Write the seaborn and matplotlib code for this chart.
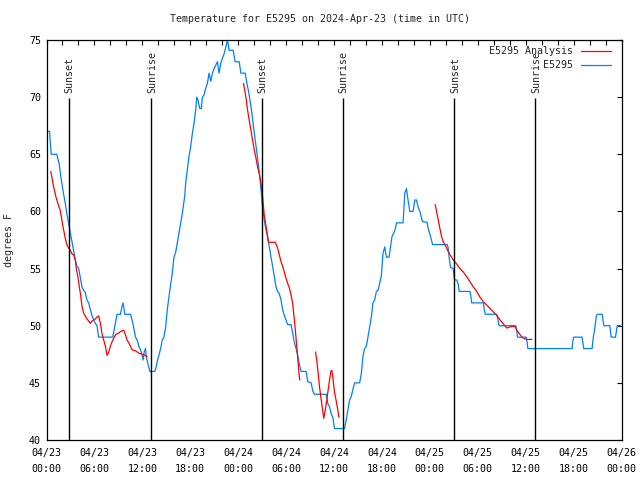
import numpy as np
import pandas as pd
import matplotlib
matplotlib.use("Agg")
import matplotlib.pyplot as plt
import seaborn as sns
from matplotlib.lines import Line2D

# ---------------- data (hours since 2024-04-23 00:00 UTC, degrees F) ----------------
obs_hours = [0.04, 0.38, 0.59, 1.29, 1.60, 1.80, 2.05, 2.35, 2.55, 2.76, 2.98, 3.18, 3.39, 3.61,
             3.81, 4.02, 4.23, 4.44, 4.65, 4.86, 5.06, 5.28, 5.49, 5.69, 5.91, 6.12, 6.32, 6.53,
             8.29, 8.54, 8.83, 9.26, 9.46, 9.59, 9.80, 10.52, 10.72, 10.93, 11.15, 11.35, 11.56,
             11.77, 11.98, 12.10, 12.23, 12.40, 12.48, 12.73, 12.94, 13.57, 13.73, 13.91, 14.07,
             14.29, 14.49, 14.70, 14.92, 15.12, 15.33, 15.54, 15.75, 15.96, 16.17, 16.37, 16.59,
             16.80, 17.00, 17.30, 17.43, 17.63, 17.84, 18.06, 18.26, 18.47, 18.69, 18.81, 18.97,
             19.19, 19.39, 19.52, 19.73, 19.94, 20.14, 20.36, 20.57, 20.77, 20.99, 21.20, 21.40,
             21.61, 21.83, 22.03, 22.24, 22.46, 22.66, 22.87, 23.37, 23.62, 24.13, 24.34, 24.88,
             25.04, 25.30, 25.51, 25.72, 25.92, 26.14, 26.35, 26.55, 26.73, 26.89, 27.05, 27.27,
             27.48, 27.68, 27.90, 28.11, 28.31, 28.52, 28.74, 28.94, 29.15, 29.37, 29.57, 29.78,
             29.99, 30.20, 30.62, 30.82, 31.04, 31.25, 31.45, 31.67, 31.88, 32.51, 32.71, 33.14,
             33.34, 33.55, 35.02, 35.22, 35.44, 35.65, 35.85, 36.06, 37.32, 37.53, 37.74, 37.95,
             38.16, 38.36, 38.58, 39.21, 39.42, 39.62, 39.83, 40.05, 40.25, 40.46, 40.68, 40.88,
             41.09, 41.31, 41.51, 41.72, 41.93, 42.13, 42.35, 42.56, 42.89, 43.06, 43.26, 43.48,
             43.69, 43.82, 44.65, 44.86, 45.07, 45.27, 45.49, 45.90, 46.12, 46.33, 46.53, 46.75,
             47.08, 47.66, 47.79, 48.09, 48.34, 50.18, 50.30, 50.43, 50.60, 50.93, 51.06, 51.14,
             51.39, 51.56, 51.68, 53.03, 53.15, 53.24, 54.70, 54.82, 54.95, 56.38, 56.51, 56.67,
             58.77, 58.90, 58.97, 60.07, 60.19, 60.28, 65.81, 65.93, 66.01, 67.06, 67.27, 68.32,
             68.45, 68.61, 68.86, 69.03, 69.58, 69.78, 70.53, 70.71, 71.25, 71.46, 71.88]
obs_temp = [67.0, 67.0, 65.0, 65.0, 64.1, 63.0, 61.9, 60.7, 59.8, 59.0, 58.1, 57.4, 56.6, 55.75,
            55.2, 55.05, 54.2, 53.4, 53.1, 52.9, 52.25, 52.0, 51.4, 50.9, 50.5, 50.2, 50.0, 49.0,
            49.0, 49.9, 51.0, 51.0, 51.7, 52.0, 51.0, 51.0, 50.5, 49.8, 49.0, 48.75, 48.2,
            47.9, 47.4, 47.0, 47.7, 48.0, 47.3, 46.6, 46.0, 46.0, 46.4, 47.0, 47.4,
            48.0, 48.75, 49.0, 49.9, 51.4, 52.5, 53.6, 54.6, 56.0, 56.4, 57.2, 58.1,
            59.0, 59.8, 61.3, 62.5, 63.6, 64.8, 65.7, 66.8, 67.7, 68.9, 70.0, 69.75,
            69.0, 69.0, 70.0, 70.2, 70.8, 71.2, 72.1, 71.4, 72.1, 72.5, 72.8, 73.1,
            72.1, 73.0, 73.4, 73.8, 74.4, 75.0, 74.1, 74.1, 73.1, 73.1, 72.1, 72.1,
            71.4, 70.5, 69.6, 68.6, 67.4, 66.25, 65.1, 63.9, 62.9, 61.6, 60.4, 59.25,
            58.4, 57.8, 56.9, 56.0, 55.2, 54.3, 53.4, 53.0, 52.8, 52.25, 51.4, 50.9,
            50.5, 50.1, 50.1, 49.4, 48.5, 48.0, 47.4, 46.6, 46.0, 46.0, 45.1, 45.0,
            44.3, 44.0, 44.0, 43.2, 42.9, 42.3, 42.0, 41.0, 41.0, 41.75, 42.6, 43.5,
            43.8, 44.4, 45.0, 45.0, 45.8, 47.3, 48.0, 48.2, 49.0, 49.9, 50.8, 52.0,
            52.25, 53.0, 53.1, 53.7, 54.4, 56.3, 56.9, 56.0, 56.0, 56.8, 57.8, 58.1,
            58.5, 59.0, 59.0, 61.6, 62.0, 61.0, 60.0, 60.0, 61.0, 61.0, 60.4, 60.0,
            59.1, 59.05, 58.5, 57.8, 57.1, 57.1, 56.8, 55.9, 55.1, 55.0, 54.15, 54.0,
            54.0, 53.6, 53.0, 53.0, 52.5, 52.0, 52.0, 51.4, 51.0, 51.0, 50.6, 50.0,
            50.0, 49.5, 49.0, 49.0, 48.5, 48.0, 48.0, 48.75, 49.0, 49.0, 48.0, 48.0,
            48.9, 49.6, 50.9, 51.0, 51.0, 50.0, 50.0, 49.0, 49.0, 50.0, 50.0]

ana1_hours = [0.54, 0.88, 1.17, 1.51, 1.72, 1.92, 2.14, 2.35, 2.55, 2.76, 2.98, 3.18, 3.39, 3.61,
              3.73, 3.93, 4.11, 4.27, 4.44, 4.65, 4.86, 5.06, 5.28, 5.49, 5.69, 5.91, 6.12, 6.32,
              6.53, 6.75, 6.95, 7.16, 7.38, 7.58, 7.79, 8.00, 8.21, 8.42, 8.63, 8.83, 9.05, 9.26,
              9.46, 9.68, 9.89, 10.09, 10.30, 10.52, 10.72, 11.15, 11.56, 11.98, 12.40, 12.60]
ana1_temp = [63.5, 62.2, 61.3, 60.5, 60.1, 59.25, 58.4, 57.65, 57.1, 56.8, 56.6, 56.3, 56.2, 55.75,
             55.0, 54.3, 53.4, 52.7, 51.7, 51.1, 50.85, 50.6, 50.4, 50.2, 50.4, 50.5, 50.6, 50.75,
             50.85, 50.2, 49.3, 48.75, 48.2, 47.4, 47.7, 48.2, 48.6, 48.9, 49.2, 49.3, 49.35, 49.5,
             49.55, 49.6, 49.2, 48.75, 48.5, 48.2, 47.9, 47.8, 47.6, 47.5, 47.4, 47.3]
ana2_hours = [24.67, 24.97, 25.17, 25.38, 25.60, 25.80, 26.01, 26.23, 26.43, 26.64, 26.85, 27.05,
              27.27, 27.56, 27.80, 28.64, 28.94, 29.15, 29.37, 29.57, 29.78, 29.99, 30.20, 30.41,
              30.62, 30.82, 30.95, 31.08, 31.20, 31.33, 31.45, 31.58, 31.70]
ana2_temp = [71.2, 70.0, 68.9, 68.0, 67.1, 66.25, 65.4, 64.65, 63.9, 63.3, 62.5, 61.3,
             59.65, 58.4, 57.3, 57.3, 56.8, 56.2, 55.6, 55.2, 54.7, 54.15, 53.7, 53.3,
             52.7, 52.0, 51.1, 50.2, 49.3, 48.2, 47.3, 46.1, 45.25]
ana3_hours = [33.68, 33.84, 34.02, 34.18, 34.34, 34.52, 34.72, 34.90, 35.10, 35.27, 35.44, 35.60,
              35.73, 35.85, 36.06, 36.28, 36.48, 36.61]
ana3_temp = [47.7, 47.0, 45.8, 44.7, 43.8, 42.9, 41.9, 42.6, 43.5, 44.4, 45.25, 46.0,
             46.1, 45.5, 44.2, 43.4, 42.6, 42.0]
ana4_hours = [48.67, 48.84, 49.05, 49.26, 49.47, 49.67, 49.89, 50.10, 50.30, 50.52, 50.73, 50.93,
              51.36, 51.77, 52.19, 52.61, 53.03, 53.44, 53.87, 54.28, 54.70, 55.13, 55.54, 55.96,
              56.38, 56.80, 57.21, 57.64, 58.05, 58.47, 58.68, 58.90, 59.10, 59.31, 59.53, 59.73,
              60.15, 60.78]
ana4_temp = [60.6, 60.0, 59.25, 58.5, 57.8, 57.35, 57.1, 56.8, 56.5, 56.2, 56.0, 55.75,
             55.4, 55.0, 54.7, 54.3, 53.85, 53.4, 53.0, 52.5, 52.1, 51.8, 51.5, 51.2,
             50.9, 50.5, 50.15, 49.8, 49.9, 49.95, 49.9, 49.6, 49.4, 49.2, 49.0, 48.9,
             48.8, 48.8]

sunset_hours = [2.80, 26.93, 51.06]
sunrise_hours = [13.11, 37.11, 61.23]

start_date = pd.Timestamp("2024-04-23 00:00")
tick_hours = list(range(0, 73, 6))
tick_labels = [(start_date + pd.Timedelta(hours=h)).strftime("%m/%d\n%H:%M") for h in tick_hours]
y_ticks = [40, 45, 50, 55, 60, 65, 70, 75]

title = "Temperature for E5295 on 2024-Apr-23 (time in UTC)"
obs_label = "E5295"
ana_label = "E5295 Analysis"

# ---------------- plotting ----------------
sns.set_style("white")
plt.rcParams["font.family"] = ["DejaVu Sans Mono", "DejaVu Sans"]
FS = 7.2

obs_df = pd.DataFrame({"hours": obs_hours, "temp": obs_temp})
ana_df = pd.concat([
    pd.DataFrame({"hours": h, "temp": t, "seg": i})
    for i, (h, t) in enumerate([(ana1_hours, ana1_temp), (ana2_hours, ana2_temp),
                                (ana3_hours, ana3_temp), (ana4_hours, ana4_temp)])
])

BLUE = "#0080ff"
RED = "#ff0000"

fig = plt.figure(figsize=(6.4, 4.8), dpi=100)
ax = fig.add_axes([46.5 / 640, 1 - 440 / 480, 575 / 640, 400 / 480])

sns.lineplot(data=obs_df, x="hours", y="temp", ax=ax, color=BLUE, lw=0.9,
             estimator=None, sort=False, legend=False)
sns.lineplot(data=ana_df, x="hours", y="temp", units="seg", ax=ax, color=RED, lw=0.9,
             estimator=None, sort=False, legend=False)

for h in sunset_hours:
    ax.vlines(h, 40, 69.9, color="black", lw=1.0)
    ax.text(h + 0.1, 70.4, "Sunset", rotation=90, ha="center", va="bottom", fontsize=FS)
for h in sunrise_hours:
    ax.vlines(h, 40, 69.9, color="black", lw=1.0)
    ax.text(h + 0.1, 70.4, "Sunrise", rotation=90, ha="center", va="bottom", fontsize=FS)

ax.set_xlim(0, 72)
ax.set_ylim(40, 75)
ax.set_xticks(tick_hours)
ax.set_xticklabels(tick_labels, fontsize=FS, linespacing=1.7)
ax.set_xticks(np.arange(0, 73, 2), minor=True)
ax.set_yticks(y_ticks)
ax.set_yticklabels([str(v) for v in y_ticks], fontsize=FS)
ax.tick_params(which="both", direction="in", top=True, right=True, length=3.5, width=0.8,
               colors="black")
ax.tick_params(axis="x", which="major", pad=6)
ax.tick_params(axis="y", which="major", pad=4)
for s in ax.spines.values():
    s.set_color("black")
    s.set_linewidth(0.9)

ax.set_xlabel("")
ax.set_ylabel("degrees F", fontsize=FS)
ax.yaxis.set_label_coords(-0.0565, 0.5)
fig.text(0.5, 1 - 19.5 / 480, title, ha="center", va="center", fontsize=FS)

handles = [Line2D([], [], color=RED, lw=0.9), Line2D([], [], color=BLUE, lw=0.9)]
leg = ax.legend(handles, [ana_label, obs_label], loc="upper right", frameon=False,
                markerfirst=False, fontsize=FS, handlelength=3.0, handletextpad=0.8,
                labelspacing=0.4, borderpad=0, borderaxespad=0,
                bbox_to_anchor=(0.981, 0.984))

fig.savefig("out.png", dpi=100)
